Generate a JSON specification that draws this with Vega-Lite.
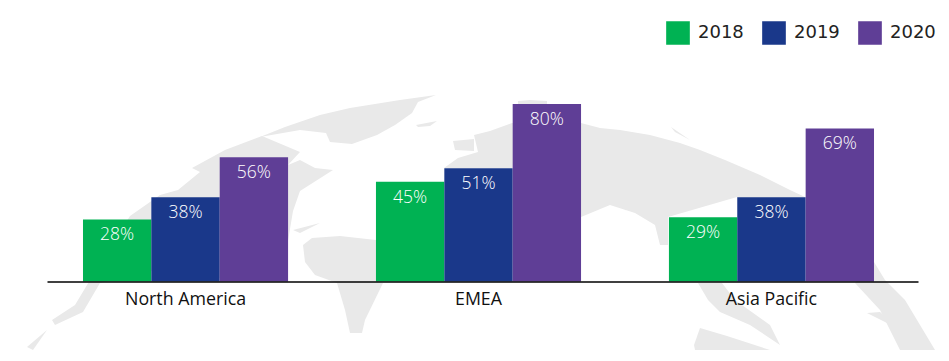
{"$schema":"https://vega.github.io/schema/vega-lite/v6.json","width":871,"height":177.5,"autosize":{"type":"none"},"padding":{"left":47,"top":104,"right":31,"bottom":79.5},"background":"white","config":{"view":{"stroke":null}},
"datasets":{"bars":[
{"region":"North America","year":"2018","share":0.28},{"region":"North America","year":"2019","share":0.38},{"region":"North America","year":"2020","share":0.56},
{"region":"EMEA","year":"2018","share":0.45},{"region":"EMEA","year":"2019","share":0.51},{"region":"EMEA","year":"2020","share":0.80},
{"region":"Asia Pacific","year":"2018","share":0.29},{"region":"Asia Pacific","year":"2019","share":0.38},{"region":"Asia Pacific","year":"2020","share":0.69}],
"landmasses":[
{"type":"Feature","properties":{"name":"Greenland"},"geometry":{"type":"Polygon","coordinates":[[[43.6,26.6],[40,26.1],[35,25.3],[32,24.6],[28.5,23.4],[26,22.4],[30,23.1],[32.6,22.8],[33,21.9],[35.2,21.7],[37.7,22.6],[39.5,23.6],[41.2,24.8],[41.8,25.9],[43.6,26.6]]]}},
{"type":"Feature","properties":{"name":"North America"},"geometry":{"type":"Polygon","coordinates":[[[26.2,22.5],[22.5,21.1],[19.2,19.3],[20,18.9],[17.8,17.1],[16,16.6],[13,14.5],[10.5,10.6],[7.5,5.6],[5.2,4.1],[5.5,3.6],[8.3,4.9],[10,7.8],[15.2,9],[25,8],[28.8,12],[29.3,15],[30,17],[33.3,19.1],[31.5,19.3],[30,20.1],[28.8,19.6],[30,20.9],[26.2,22.5]]]}},
{"type":"Feature","properties":{"name":"Tail"},"geometry":{"type":"Polygon","coordinates":[[[2.7,1.4],[4.7,3.1],[3.3,1.1],[2.7,1.4]]]}},
{"type":"Feature","properties":{"name":"Baffin"},"geometry":{"type":"Polygon","coordinates":[[[41.6,23.6],[43.7,24],[43,23.5],[41.8,23.4],[41.6,23.6]]]}},
{"type":"Feature","properties":{"name":"Caribbean"},"geometry":{"type":"Polygon","coordinates":[[[29.3,13.1],[32,13.8],[30,12.8],[29.3,13.1]]]}},
{"type":"Feature","properties":{"name":"South America"},"geometry":{"type":"Polygon","coordinates":[[[30.3,11.6],[31.2,12.3],[34,12.5],[37.6,12.1],[37.6,7.9],[38.3,7.8],[36.5,4.1],[36.2,2.8],[35,2.8],[34.5,5.1],[33.7,7.8],[31.5,8.6],[30.5,9.9],[30.3,11.6]]]}},
{"type":"Feature","properties":{"name":"Europe"},"geometry":{"type":"Polygon","coordinates":[[[45.3,22],[47.4,22.2],[47.4,21],[45.5,21.1],[45.3,22]]]}},
{"type":"Feature","properties":{"name":"Europe north"},"geometry":{"type":"Polygon","coordinates":[[[47.4,22.6],[49,23],[51.2,23.8],[58.1,23.8],[58.1,19.3],[44.4,19.3],[45.8,20.3],[47.8,20.9],[47.4,22.6]]]}},
{"type":"Feature","properties":{"name":"Arctic rim"},"geometry":{"type":"Polygon","coordinates":[[[51.8,26],[53,26.1],[54.7,26],[54.7,25.6],[51.8,25.6],[51.8,26]]]}},
{"type":"Feature","properties":{"name":"Asia"},"geometry":{"type":"Polygon","coordinates":[[[58.1,23.8],[60,23.3],[62,23.1],[65,22.6],[68,21.8],[70,21.1],[72.5,20.1],[76,18.6],[79,17.1],[80.5,16.4],[80.5,8],[73.7,8],[73.7,16.4],[66.8,14.4],[66.8,11.6],[66,11.6],[65.5,13.6],[63.5,14.8],[61,15.6],[58.1,14.4],[58.1,23.8]],[[61.1,19.1],[62.4,19.1],[62.4,17.8],[61.1,17.8],[61.1,19.1]],[[64.1,18.4],[65,18.4],[65,17.9],[64.1,17.9],[64.1,18.4]],[[60.6,16.8],[62,16.6],[64,14.8],[62.5,15.1],[60.6,16.8]]]}},
{"type":"Feature","properties":{"name":"Japan"},"geometry":{"type":"Polygon","coordinates":[[[67.1,23.4],[69,22.1],[67.5,22.9],[67.1,23.4]]]}},
{"type":"Feature","properties":{"name":"Southeast Asia"},"geometry":{"type":"Polygon","coordinates":[[[69.8,7.8],[72.2,7.8],[73.5,6.1],[77,3.6],[78,1.6],[75,3.6],[72,4.9],[70.8,6.1],[69.8,7.8]]]}},
{"type":"Feature","properties":{"name":"Australia"},"geometry":{"type":"Polygon","coordinates":[[[69.4,1.6],[70,3.3],[72.7,2.5],[77,1.1],[69.5,1.1],[69.4,1.6]]]}},
{"type":"Feature","properties":{"name":"Pacific east"},"geometry":{"type":"Polygon","coordinates":[[[87.4,9.9],[88.5,8.1],[90.5,6.1],[93.5,1.1],[90,1.1],[88,5.1],[85.5,7.8],[87.4,9.9]]]}},
{"type":"Feature","properties":{"name":"Pacific island"},"geometry":{"type":"Polygon","coordinates":[[[86.7,4.8],[88,4.9],[90,3.1],[88.5,3.9],[86.7,4.8]]]}}
]},
"layer":[
{"data":{"name":"landmasses"},"mark":{"type":"geoshape","fill":"#e9e9e9","stroke":null,"clip":false},"projection":{"type":"identity","reflectY":true,"scale":10,"translate":[-47,257]},"encoding":{}},
{"data":{"name":"bars"},"mark":{"type":"bar"},"encoding":{
"x":{"field":"region","type":"nominal","sort":["North America","EMEA","Asia Pacific"],"scale":{"paddingInner":0.3,"paddingOuter":0.1365,"align":0.45},"axis":{"title":null,"labelAngle":0,"ticks":false,"domainColor":"#000000","domainWidth":1.3,"labelFont":"Open Sans","labelFontWeight":400,"labelFontSize":17.8,"labelColor":"#111111","labelPadding":9,"grid":false,"zindex":1}},
"xOffset":{"field":"year","type":"nominal","scale":{"paddingInner":0,"paddingOuter":0}},
"y":{"field":"share","type":"quantitative","scale":{"domain":[0,0.8],"nice":false},"axis":null},
"color":{"field":"year","type":"nominal","scale":{"domain":["2018","2019","2020"],"range":["#00b253","#1a388a","#5f3e96"]},"legend":{"orient":"none","direction":"horizontal","legendX":619,"legendY":-83,"title":null,"symbolType":"square","symbolSize":560,"symbolStrokeWidth":0,"symbolOpacity":1,"labelFont":"DejaVu Sans","labelFontSize":18,"labelColor":"#222222","labelOffset":8,"columnPadding":18,"gridAlign":"all","clipHeight":24}}}},
{"data":{"name":"bars"},"mark":{"type":"text","dy":16,"baseline":"middle","align":"center","font":"Open Sans","fontWeight":300,"fontSize":17.5,"fill":"#ffffff"},"encoding":{
"x":{"field":"region","type":"nominal","sort":["North America","EMEA","Asia Pacific"]},
"xOffset":{"field":"year","type":"nominal"},
"y":{"field":"share","type":"quantitative"},
"text":{"field":"share","type":"quantitative","format":".0%"}}}
]}
